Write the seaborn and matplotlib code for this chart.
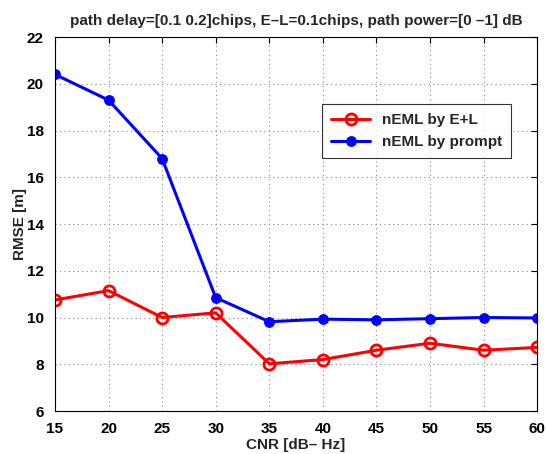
import matplotlib
matplotlib.use("Agg")
import matplotlib.pyplot as plt
import seaborn as sns
import pandas as pd

cnr = [15, 20, 25, 30, 35, 40, 45, 50, 55, 60]
rmse_el = [10.75, 11.15, 10.0, 10.2, 8.02, 8.2, 8.6, 8.9, 8.6, 8.72]
rmse_prompt = [20.4, 19.3, 16.8, 10.85, 9.82, 9.93, 9.9, 9.95, 10.0, 9.98]
series_names = ["nEML by E+L", "nEML by prompt"]
xticks = [15, 20, 25, 30, 35, 40, 45, 50, 55, 60]
yticks = [6, 8, 10, 12, 14, 16, 18, 20, 22]

sns.set_style("white")
plt.rcParams['font.family'] = ['Liberation Sans', 'DejaVu Sans']
plt.rcParams['font.weight'] = 'bold'

df = pd.DataFrame({
    "CNR": cnr * 2,
    "RMSE": rmse_el + rmse_prompt,
    "series": [series_names[0]] * len(cnr) + [series_names[1]] * len(cnr),
})

fig = plt.figure(figsize=(5.47, 4.54), dpi=100)
ax = fig.add_axes([0.1005, 0.0947, 0.8815, 0.8238])

sns.lineplot(data=df[df.series == series_names[0]], x="CNR", y="RMSE", ax=ax,
             color="red", lw=2.2, marker="o", markersize=8, markerfacecolor="none",
             markeredgecolor="red", markeredgewidth=2, label=series_names[0])
sns.lineplot(data=df[df.series == series_names[1]], x="CNR", y="RMSE", ax=ax,
             color="blue", lw=2.2, marker="o", markersize=7, markerfacecolor="blue",
             markeredgecolor="blue", label=series_names[1])

ax.set_xlim(15, 60)
ax.set_ylim(6, 22)
ax.set_xticks(xticks)
ax.set_yticks(yticks)
ax.grid(True, linestyle=(0, (1, 3)), color="#888888", lw=0.8)
ax.tick_params(direction="in", top=True, right=True, length=4, labelsize=11, colors="black")
ax.tick_params(axis="x", pad=8)
ax.tick_params(axis="y", pad=8)
for lab in ax.get_xticklabels() + ax.get_yticklabels():
    lab.set_fontweight("bold")
for s in ax.spines.values():
    s.set_color("black")
    s.set_linewidth(0.8)

ax.set_xlabel("CNR [dB\u2013 Hz]", fontsize=11, fontweight="bold", labelpad=1)
ax.set_ylabel("RMSE [m]", fontsize=11, fontweight="bold", labelpad=0)
ax.set_title("path delay=[0.1 0.2]chips, E\u2013L=0.1chips, path power=[0 \u20131] dB",
             fontsize=11, fontweight="bold", pad=9)

leg = ax.legend(loc="upper right", bbox_to_anchor=(0.962, 0.842), fontsize=11,
                frameon=True, fancybox=False, edgecolor="black", handlelength=2.5,
                borderpad=0.6, labelspacing=0.55)
leg.get_frame().set_linewidth(0.8)
for t in leg.get_texts():
    t.set_fontweight("bold")

fig.savefig("out.png", dpi=100)
